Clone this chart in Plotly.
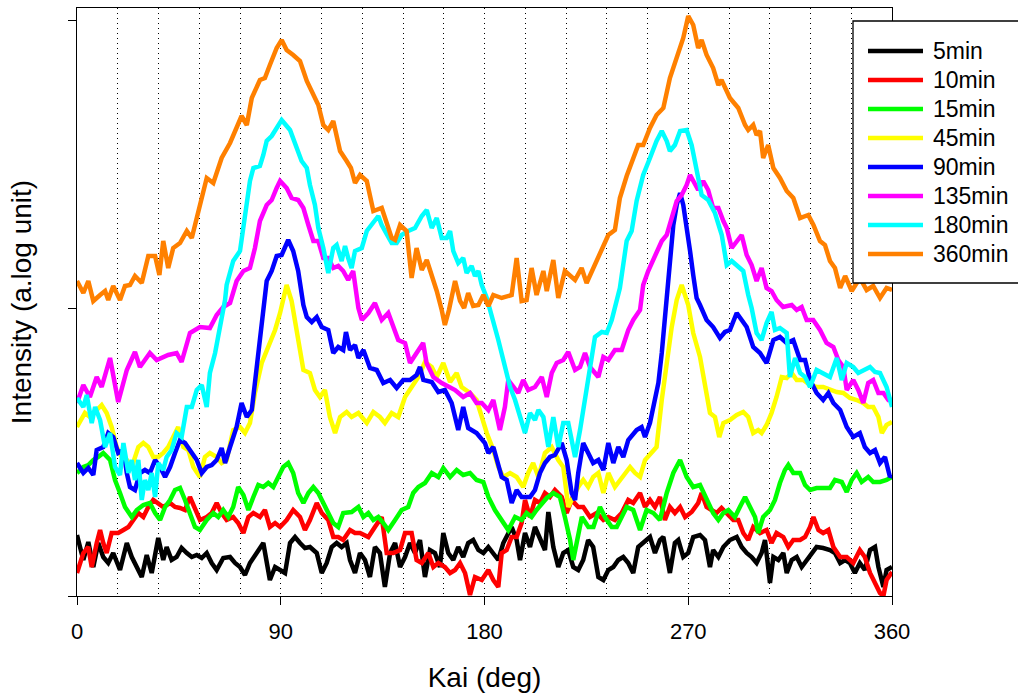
import plotly.graph_objects as go

# ---------------- data (Kai angle in deg, intensity in arbitrary log units) ----------------
series_names = ["5min", "10min", "15min", "45min", "90min", "135min", "180min", "360min"]
series_colors = ["#000000", "#FF0000", "#00FF00", "#FFFF00", "#0000FF", "#FF00FF", "#00FFFF", "#FF8000"]
x_tick_vals = [0, 90, 180, 270, 360]
x_tick_text = ["0", "90", "180", "270", "360"]
y_tick_vals = [0, 288, 576]

kai_5 = [0,2.8,5,7.2,9.4,11.6,13.8,16,19,22,24.2,26.4,28.6,30.8,33,35.9,38.1,39.6,41.8,44,46.2,48.5,50.7,52.9,55.1,57.3,59.5,61.7,64.6,67.6,69.8,72,74.2,76.4,79.4,82.3,85.2,87.5,89.7,91.9,94.1,96.3,98.5,100.7,102.9,105.9,108.1,110.3,112.5,114.7,116.9,119.1,120.6,122.8,125,127.2,129.4,131.6,133.8,136,138.3,140.5,142.7,144.9,147.1,149.3,151.5,153.7,155.9,158.1,160.3,161.8,164,166.2,168.4,170.6,172.8,175,177.3,179.5,181.7,183.9,186.1,188.3,190.5,192,194.2,195.7,197.9,200.1,202.3,204.5,206.7,208.2,210.4,212.6,214.8,217,219.2,221.4,223.6,225.8,228,230.3,232.5,234.7,236.9,239.1,241.3,243.5,245.7,247.9,250.1,253.1,255.3,257.5,259,261.9,264.1,265.6,267.8,270,272.2,275.2,277.4,279.6,281,283.3,285.5,288.4,291.4,293.6,295.8,298,300.2,302.4,303.9,306.1,307.6,309.8,312,313.5,315.7,317.9,320.1,322.3,324.5,326.7,329.6,332.6,334.8,337.1,339.3,341.4,343.6,345.8,348,350.3,352.5,354,356.2,357.6,360]
int_5 = [61,36,54,29,53,39,33,43,26,53,39,29,19,41,23,58,36,49,36,39,48,43,39,41,38,43,33,26,38,39,33,29,21,33,43,53,16,29,26,23,53,59,53,48,49,43,23,33,49,53,49,53,36,23,43,36,19,49,43,9,43,53,29,39,53,43,56,19,46,43,29,63,43,36,49,39,53,56,46,43,49,43,36,53,63,69,56,36,63,49,69,56,46,84,49,29,43,46,29,26,36,56,49,19,16,26,29,36,39,33,23,49,53,59,43,56,59,23,53,56,39,43,59,61,56,29,46,39,49,56,59,49,43,39,33,43,56,13,39,36,43,23,36,39,29,36,43,49,48,46,43,33,36,33,23,33,26,46,49,29,9,26,29]

kai_10 = [0,2.8,5,6.5,8.7,10.2,11.6,13.1,15.3,18.2,20.5,22.7,24.9,27.1,29.3,31.5,33.7,35.9,38.1,41.1,43.3,45.5,47.7,49.9,52.1,54.3,57.3,59.5,61.7,63.9,66.1,69,71.2,73.5,75.7,77.9,80.8,83,85.2,87.5,89.7,92.6,95.5,98.5,100.7,102.9,105.9,108.1,111,113.2,115.4,117.6,120.6,122.8,125,128.7,131.6,134.6,136.8,139.7,142.7,144.9,147.8,150,152.3,155.2,157.4,159.6,162.5,164.8,167,169.2,171.4,173.6,175.8,178.8,181.7,183.9,186.1,187.6,189.8,192,194.2,196.4,197.9,200.1,202.3,204.5,206.7,208.9,211.1,214.1,216.3,218.5,221.4,223.6,226.6,229.5,232.5,234.7,237.6,240.6,243.5,245.7,248.7,250.9,253.1,255.3,257.5,259.7,261.9,264.1,266.4,268.6,271.5,274.4,275.9,278.1,280.3,282.5,284.7,287,289.9,292.1,294.3,296.5,298.7,301.7,304.6,306.8,309,312,314.2,316.4,319.4,321.6,323.8,325.3,327.5,329.6,331.9,334.1,337.1,340,342.9,345.8,348,350.3,352.5,354.7,356.2,357.6,360]
int_10 = [23,43,49,29,53,66,53,43,63,63,66,69,76,83,79,89,96,93,89,93,89,88,86,99,86,76,79,83,93,83,76,79,73,63,79,83,79,86,69,73,69,76,86,79,66,76,93,83,76,59,59,56,66,63,63,59,69,79,43,43,46,63,63,36,33,43,29,33,29,23,26,33,23,1,19,16,26,16,9,43,46,59,59,73,96,79,96,93,103,99,106,99,83,96,89,89,79,83,76,79,76,83,96,93,103,89,96,89,99,76,89,83,89,79,84,93,103,89,86,83,88,83,76,76,63,56,69,63,66,53,63,59,49,56,56,59,69,79,66,63,66,49,39,39,33,46,39,23,13,3,0,16,24]

kai_15 = [0,2.8,5,7.2,9.4,11.6,14.6,16.8,19,21.2,24.2,26.4,29.3,32.2,34.5,36.7,38.9,41.1,43.3,45.5,47.7,49.9,52.1,54.3,57.3,60.2,62.4,64.6,66.8,69,71.2,73.5,75.7,77.9,80.1,82.3,84.5,86.7,88.9,91.1,93.3,95.5,97.7,100,102.2,104.4,106.6,108.8,111,113.2,115.4,117.6,121.3,124.3,126.5,128.7,130.9,133.1,135.3,137.5,140.5,143.4,146.3,148.5,150.8,153.7,156.7,159.6,161.8,164.8,167.7,170.6,173.6,176.5,179.5,181.7,184.6,187.6,190.5,193.5,196.4,198.6,200.8,203,205.3,207.5,210.4,213.3,215.5,217.8,219.2,221.4,223,225.9,228.1,231,233.2,236.2,238.4,240.6,242.8,245.7,248.7,251.6,254.6,257.5,260.5,263.4,266.4,269.3,272.2,275.2,278.1,281,283.3,285.5,287.7,290.6,292.8,295.1,297.3,299.5,300.9,303.1,306.1,308.3,310.5,312.7,314.2,316.4,319.4,321.6,323.8,326.7,329.6,332.6,334.8,337.8,340,342.2,344.4,346.6,349.5,351.7,354.7,357.6,360]
int_15 = [123,129,131,136,139,143,136,116,103,89,79,86,91,93,83,76,89,96,106,108,96,83,69,66,76,83,79,86,79,89,109,101,86,99,111,109,113,109,118,129,133,123,103,93,103,109,103,93,83,73,69,83,84,89,79,83,76,79,73,66,76,86,89,103,109,113,123,119,128,119,126,121,123,116,114,99,86,76,66,79,76,83,79,86,93,98,103,99,79,56,36,63,79,69,69,89,79,69,69,79,89,86,66,86,83,76,103,123,136,119,109,111,96,83,76,83,86,79,89,99,89,79,63,79,86,96,113,126,131,123,123,111,106,108,108,108,116,114,104,116,123,114,119,114,114,116,119]

kai_45 = [0,3.5,5.7,8.7,10.9,13.1,15.3,17.5,19.7,22,24.2,27.1,29.3,31.5,33.7,35.9,38.1,40.3,42.5,44.7,47,49.2,51.4,54.3,56.5,58.7,61.7,63.9,66.1,69,72,74.2,76.4,78.6,81.6,84.5,87.5,89.7,92.6,94.8,97,100,102.9,105.1,107.3,109.5,111.7,114,116.2,119.1,121.3,124.3,128,130.9,133.8,136,139,141.9,144.9,147.8,150.8,153.7,156.7,158.9,161.8,164.8,167.7,169.9,173.6,176.5,178.8,181,183.9,186.1,188.3,191.3,194.2,197.1,199.3,201.5,203.8,206.7,209.7,212.6,214.8,217,218.5,221.4,223.6,225.8,228,230.3,232.5,234.7,237.6,239.8,242,244.3,246.5,248.7,250.9,253.8,256,258.3,260.5,262.7,264.9,267.1,270,272.2,275.2,277.4,279.6,281.8,283.7,285.5,288.4,291.4,294.3,296.5,298.7,300.9,302.4,304.6,306.8,309,311.3,313.5,315.7,317.9,320.8,323.8,326.7,329.6,332.6,335.6,338.5,341.4,344.4,347.3,349.5,351.7,354,355.5,357.6,360]
int_45 = [169,183,179,186,191,183,169,149,139,136,129,149,153,149,139,139,143,149,159,169,149,146,129,119,139,143,139,133,136,166,169,163,173,203,233,249,266,283,311,295,266,226,223,206,199,206,179,163,179,184,179,183,173,184,179,173,183,179,199,209,219,234,229,219,233,214,223,209,203,196,179,163,146,129,119,123,119,109,123,133,119,143,149,136,129,89,96,109,116,109,119,123,103,123,109,116,123,129,123,119,136,143,149,196,236,269,296,311,291,263,239,213,183,179,159,173,176,181,184,179,163,166,163,171,183,199,219,218,223,216,216,211,209,209,206,204,203,198,196,193,189,189,179,163,171,174]

kai_90 = [0,2.8,5,7.2,8.7,11.6,13.8,16,18.2,20.5,22,23.4,25.6,27.8,30,32.2,34.5,36.7,38.9,41.1,43.3,45.5,47.7,49.9,52.9,55.1,57.3,59.5,61.7,63.9,65.4,67.6,70.5,72.7,75,77.2,79.4,81.6,83.8,86,88.2,90.4,93.3,95.5,97.7,100,101.5,103.7,105.9,108.1,111,113.2,115.4,117.6,118.8,120.6,122.8,124.3,126.5,129.4,132.4,135.3,138.3,141.2,144.1,147.1,150,151.5,153,156.7,159.6,162.5,165.5,168.4,170.6,172.8,176.5,180.2,181.7,183.9,186.1,187.6,189.8,192,194.2,196.4,200.1,202.3,204.5,206.7,208.9,211.1,214.1,216.3,218.5,220,221.4,223.6,225.8,228,230.3,232.5,234.7,236.9,239.1,241.3,243.5,247.2,249.4,250.9,253.1,254.6,256.8,258.3,259.7,261.9,263.4,264.9,266.4,267.8,269.3,270.8,272.2,273.7,275.2,278.1,281,284,286.2,288.4,291.4,293.6,295.8,298.7,301.7,304.6,307.6,310.5,313.5,316.4,319.4,321.6,323.8,326.7,329.6,331.9,334.1,337.1,340,342.9,345.8,348,350.3,352.5,354.7,356.9,359.1,360]
int_90 = [133,123,128,121,146,149,163,159,143,146,123,109,106,123,126,123,136,129,119,129,143,156,153,146,136,123,129,131,136,148,133,149,169,193,179,186,229,273,315,325,340,341,356,345,325,291,279,274,279,269,266,243,249,246,264,246,251,238,246,228,226,213,216,208,216,216,221,229,216,214,204,206,193,166,189,168,163,153,143,149,133,119,116,93,106,99,99,106,123,133,139,141,153,136,103,96,123,153,143,133,136,126,153,133,149,139,156,166,169,159,173,189,213,243,276,335,371,391,403,391,371,345,321,298,291,276,269,258,264,266,283,276,269,249,243,233,256,259,253,256,236,236,216,203,196,203,193,186,169,159,163,149,143,146,133,139,119,121]

kai_135 = [0,2.8,5.7,8.7,10.9,14.6,18.2,22,25.6,27.8,32.2,35.2,40.3,44,46.2,49.9,54.3,58.7,61.7,64.6,67.6,70.5,73.5,76.4,78.6,80.8,83.8,86,88.2,89.7,92.6,94.8,97.7,100,102.2,104.4,106.6,108.8,111,113.2,115.4,117.6,119.8,122,124.3,125.8,128.7,131.6,134.6,137.5,141.9,144.9,147.1,150,152.9,154.4,157.4,161.1,164,167,170.6,173.6,176.5,178.8,181.7,183.9,186.8,189,190.5,192.7,194.9,197.1,199.3,202.3,205.3,207.5,209.7,211.9,214.8,217,220,222.2,224.4,226.6,230.3,232.5,234.7,237.6,240.6,243.5,245.7,248.7,250.1,252.3,255.3,258.3,260.5,261.9,263.4,264.9,267.1,269.3,270.8,272.2,274.4,276.6,278.8,281,283.3,285.5,287,289.2,291.4,293.6,295.8,298,300.2,302.4,304.6,306.8,309,311.9,315.7,317.9,320.1,322.3,325.2,328.2,331.1,334.1,336.3,338.5,340,342.9,345.1,347.3,349.5,351.7,354,356.2,358.4,360]
int_135 = [193,211,199,219,209,238,194,226,244,229,243,236,241,243,234,263,269,268,281,289,293,315,325,328,348,375,391,396,408,415,408,398,396,388,371,355,355,338,338,328,330,325,316,325,288,276,283,293,276,283,256,253,233,243,253,233,219,213,209,206,199,203,193,193,186,196,166,189,216,209,203,216,206,209,219,199,223,233,236,244,226,229,243,229,219,239,236,246,246,266,276,286,311,325,341,355,361,371,381,395,401,411,421,415,406,415,406,388,388,375,368,348,355,361,341,331,315,328,308,305,296,289,291,286,289,276,276,266,253,249,236,229,206,216,206,193,213,216,203,203,196,196]

kai_180 = [0,2.8,4.3,6.5,8,10.2,12.4,14.6,16.8,19,20.5,22.7,24.2,25.6,27.1,28.6,30,31.5,33,34.5,35.9,38.1,39.6,41.8,44,46.2,48.5,50.7,52.9,55.1,57.3,58.7,61,63.2,65.4,66.1,69,72,74.2,76.4,77.9,80.8,82.3,83.8,86,87.5,90.4,94.1,97,99.2,101.5,102.9,105.1,106.6,108.8,111,113.2,114.7,116.9,118.4,119.8,121.3,122.8,125.8,128,130.9,133.1,134.6,136.8,139,141.2,143.4,146.3,149.3,152.3,154.5,156.7,158.9,161.1,163.3,164.8,166.2,168.4,170.6,172.1,174.3,175.8,177.3,178.8,181,186.1,189,191.3,193.5,195.7,197.9,200.1,202.3,203.8,206,208.2,210.4,212.6,214.8,217,220,222.2,224.4,226.6,228.8,231.8,234,236.2,238.4,239.8,242.8,245,247.2,250.1,253.1,256,258.3,260.5,261.9,264.1,266.4,269.3,271.5,273.7,275.9,278.8,281.8,284.8,287,289.2,291.4,294.3,296.5,298,300.2,302.4,304.6,306.8,308.3,310.5,313.5,314.9,317.2,319.4,321.6,323.8,326.7,329.6,332.6,335.6,337.8,340,342.9,345.1,348,350.3,352.5,354.7,357.6,360]
int_180 = [198,189,201,173,189,176,149,163,129,121,153,123,136,116,136,96,116,106,123,99,133,126,139,146,163,159,189,189,206,211,189,223,243,269,296,311,335,345,381,415,428,430,441,455,460,466,476,466,448,435,428,411,391,368,348,323,348,351,335,350,338,328,345,348,365,373,380,371,361,353,353,361,365,368,380,386,368,378,358,358,365,345,333,338,323,330,320,325,311,298,256,229,209,196,179,163,183,176,186,179,149,179,149,173,173,139,166,196,229,259,264,263,276,296,308,355,365,395,421,438,455,465,455,445,451,465,466,451,425,401,396,383,361,331,335,331,325,301,288,263,256,273,284,266,268,263,219,238,223,219,209,226,223,219,238,216,233,229,223,226,229,224,223,209,189]

kai_360 = [0,2.8,5,7.2,10.2,12.4,13.8,16,19,21.2,23.4,25.6,28.6,31.5,34.5,36.4,38.1,40.3,42.5,45.5,48.5,50.7,52.9,55.1,57.3,60.2,63.9,67.6,70.5,72.7,75,77.2,80.8,83,85.2,88.2,90.4,92.6,95.5,98.5,101.5,104.4,106.6,108.8,111,113.2,116.2,119.1,121,122.8,125,128,130.9,134.6,136.8,139,140.5,142.7,145.6,147.8,150,152.3,154.5,156.7,158.9,161.1,162.5,164.3,167,169.2,171,172.8,175,177.3,179.5,181.7,183.9,187.6,192,194.2,196.4,198.6,200.8,203,206,207.5,210.4,212.6,215.5,220,222.9,225.1,228.8,231.8,234.7,237.6,239.8,242.8,245.7,247.9,250.1,253.1,256,259,261.9,264.9,267.8,270,272.2,274.4,275.9,278.1,281,283.3,284.7,288.4,292.1,295.1,296.5,298.7,300.2,301.7,303.1,305.3,307.6,310.5,313.5,316.4,319.4,323,325.3,328.2,330.4,332.6,334.8,337.1,339.3,342.2,345.8,348.8,351.7,354.7,357.6,360]
int_360 = [315,303,315,295,301,305,296,310,296,310,311,320,313,340,340,321,355,328,348,353,365,358,378,398,418,413,438,453,468,480,471,498,516,518,531,548,556,546,541,535,515,501,491,471,466,475,445,435,428,413,421,415,385,388,371,358,356,371,365,318,348,326,336,321,305,286,271,286,315,295,288,303,290,291,301,290,301,298,301,338,295,296,328,301,325,305,336,298,325,316,328,313,331,348,361,366,398,420,438,451,451,468,481,488,518,538,558,580,571,548,556,541,528,511,516,498,488,471,466,471,461,465,438,451,428,418,405,398,378,381,371,355,351,335,328,308,320,305,318,306,310,298,308,306]

kai_all = [kai_5, kai_10, kai_15, kai_45, kai_90, kai_135, kai_180, kai_360]
int_all = [int_5, int_10, int_15, int_45, int_90, int_135, int_180, int_360]

# ---------------- figure ----------------
FONT = "Liberation Sans, Arial, Helvetica, sans-serif"
W, H = 1018, 695
L, R, T, B = 77, 892, 8, 596  # plot area in pixels


def xp(px):
    return (px - L) / (R - L)


def yp(py):
    return (B - py) / (B - T)


fig = go.Figure()
for name, color, xs, ys in zip(series_names, series_colors, kai_all, int_all):
    fig.add_trace(go.Scatter(x=xs, y=ys, mode="lines", name=name,
                             line=dict(color=color, width=4.5), showlegend=False))

grid_dash = "1px,4px"
fig.update_layout(
    template="none",
    width=W, height=H,
    margin=dict(l=L, r=W - R, t=T, b=H - B, pad=0),
    paper_bgcolor="white", plot_bgcolor="white",
    font=dict(family=FONT, color="black", size=22),
    showlegend=False,
    xaxis=dict(
        range=[0, 360], tickmode="array", tickvals=x_tick_vals, ticktext=x_tick_text,
        ticks="outside", ticklen=8, tickwidth=1.3, tickcolor="black",
        showline=True, linewidth=1.3, linecolor="black", mirror=True,
        showgrid=True, gridcolor="black", gridwidth=1, griddash=grid_dash,
        zeroline=False, automargin=False,
        tickfont=dict(size=22, family=FONT, color="black"),
        ticklabelstandoff=7,
        minor=dict(dtick=18, tick0=0, showgrid=True, gridcolor="black",
                   gridwidth=1, griddash=grid_dash, ticks=""),
        title=dict(text="Kai (deg)", font=dict(size=28, family=FONT, color="black"), standoff=24),
    ),
    yaxis=dict(
        range=[0, 588], tickmode="array", tickvals=y_tick_vals, showticklabels=False,
        ticks="outside", ticklen=8, tickwidth=1.3, tickcolor="black",
        showline=True, linewidth=1.3, linecolor="black", mirror=True,
        showgrid=False, zeroline=False, automargin=False,
        title=dict(text="Intensity (a.log unit)", font=dict(size=28, family=FONT, color="black"),
                   standoff=28),
    ),
)

# ---------------- legend drawn as box + line samples + text ----------------
shapes = [dict(type="rect", xref="paper", yref="paper",
               x0=xp(853), x1=xp(1040), y0=yp(283), y1=yp(21),
               line=dict(color="black", width=1.3), fillcolor="white", layer="above")]
annotations = []
for i, (name, color) in enumerate(zip(series_names, series_colors)):
    row = 51 + 29 * i
    shapes.append(dict(type="line", xref="paper", yref="paper",
                       x0=xp(868), x1=xp(923), y0=yp(row), y1=yp(row),
                       line=dict(color=color, width=4.5), layer="above"))
    annotations.append(dict(xref="paper", yref="paper", x=xp(931), y=yp(row),
                            text=name, showarrow=False, xanchor="left", yanchor="middle",
                            font=dict(size=23, family=FONT, color="black")))
fig.update_layout(shapes=shapes, annotations=annotations)

fig.write_html("out.html")
